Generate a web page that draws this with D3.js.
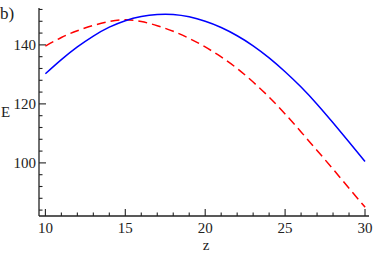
<!DOCTYPE html>
<html>
<head>
<meta charset="utf-8">
<script src="https://cdn.jsdelivr.net/npm/d3@7"></script>
<style>
  body { margin: 0; background: #fff; }
</style>
</head>
<body>
<svg id="chart" width="374" height="258"></svg>
<script>
// data
const zValues = [10, 11, 12, 13, 14, 15, 16, 17, 18, 19, 20, 21, 22, 23, 24, 25, 26, 27, 28, 29, 30];
const solidE = [130.2, 135, 139.3, 143, 146, 148.2, 149.6, 150.3, 150.3, 149.5, 148, 145.9, 143.1, 139.7, 135.6, 130.9, 125.7, 119.9, 113.6, 107.1, 100.5];
const dashedE = [139.6, 142.5, 144.8, 146.6, 147.9, 148.5, 147.9, 146.5, 144.6, 142.2, 139.3, 135.9, 132, 127.4, 122.3, 116.6, 110.5, 104.2, 97.9, 91.4, 85];
const xMajor = [10, 15, 20, 25, 30];
const yMajor = [100, 120, 140];

const svg = d3.select("#chart");
const serif = "'Liberation Serif', 'Times New Roman', 'DejaVu Serif', serif";

// axis frame (origin bottom-left)
const x = d3.scaleLinear().domain([9.6, 30.25]).range([39, 369]);
const y = d3.scaleLinear().domain([82, 152.5]).range([216, 8]);

const axisColor = "#222";

// x axis, ticks pointing inward (up)
const xAxis = svg.append("g").attr("transform", `translate(0,${y.range()[0]})`);
xAxis.append("line")
  .attr("x1", x.range()[0]).attr("x2", x.range()[1])
  .attr("stroke", axisColor).attr("stroke-width", 1.3);
xAxis.selectAll("line.minor")
  .data(d3.range(10, 31, 1))
  .enter().append("line")
  .attr("class", "minor")
  .attr("x1", d => x(d)).attr("x2", d => x(d))
  .attr("y1", 0).attr("y2", d => xMajor.includes(d) ? -7 : -3.5)
  .attr("stroke", axisColor).attr("stroke-width", 1.1);
xAxis.selectAll("text")
  .data(xMajor)
  .enter().append("text")
  .attr("x", d => x(d)).attr("y", 17)
  .attr("text-anchor", "middle")
  .attr("font-family", serif)
  .attr("font-size", 15)
  .attr("fill", "#222")
  .text(d => d);

// y axis, ticks pointing inward (right)
const yAxis = svg.append("g").attr("transform", `translate(${x.range()[0]},0)`);
yAxis.append("line")
  .attr("y1", y.range()[0]).attr("y2", y.range()[1])
  .attr("stroke", axisColor).attr("stroke-width", 1.3);
yAxis.selectAll("line.minor")
  .data(d3.range(84, 153, 4))
  .enter().append("line")
  .attr("class", "minor")
  .attr("y1", d => y(d)).attr("y2", d => y(d))
  .attr("x1", 0).attr("x2", d => yMajor.includes(d) ? 7 : 3.5)
  .attr("stroke", axisColor).attr("stroke-width", 1.1);
yAxis.selectAll("text")
  .data(yMajor)
  .enter().append("text")
  .attr("x", -3).attr("y", d => y(d))
  .attr("dy", "0.33em")
  .attr("text-anchor", "end")
  .attr("font-family", serif)
  .attr("font-size", 15)
  .attr("fill", "#222")
  .text(d => d);

// axis titles and panel label
svg.append("text").attr("x", 1).attr("y", 117)
  .attr("font-family", serif).attr("font-size", 15).attr("fill", "#222").text("E");
svg.append("text").attr("x", 206).attr("y", 250).attr("text-anchor", "middle")
  .attr("font-family", serif).attr("font-size", 15).attr("fill", "#222").text("z");
svg.append("text").attr("x", 0).attr("y", 19)
  .attr("font-family", serif).attr("font-size", 17).attr("fill", "#222").text("b)");

// curves
const line = d3.line()
  .x(d => x(d[0]))
  .y(d => y(d[1]))
  .curve(d3.curveNatural);

svg.append("path")
  .datum(zValues.map((z, i) => [z, dashedE[i]]))
  .attr("d", line)
  .attr("fill", "none")
  .attr("stroke", "#ff0000")
  .attr("stroke-width", 1.5)
  .attr("stroke-dasharray", "9,5");

svg.append("path")
  .datum(zValues.map((z, i) => [z, solidE[i]]))
  .attr("d", line)
  .attr("fill", "none")
  .attr("stroke", "#0000ff")
  .attr("stroke-width", 1.5);
</script>
</body>
</html>
